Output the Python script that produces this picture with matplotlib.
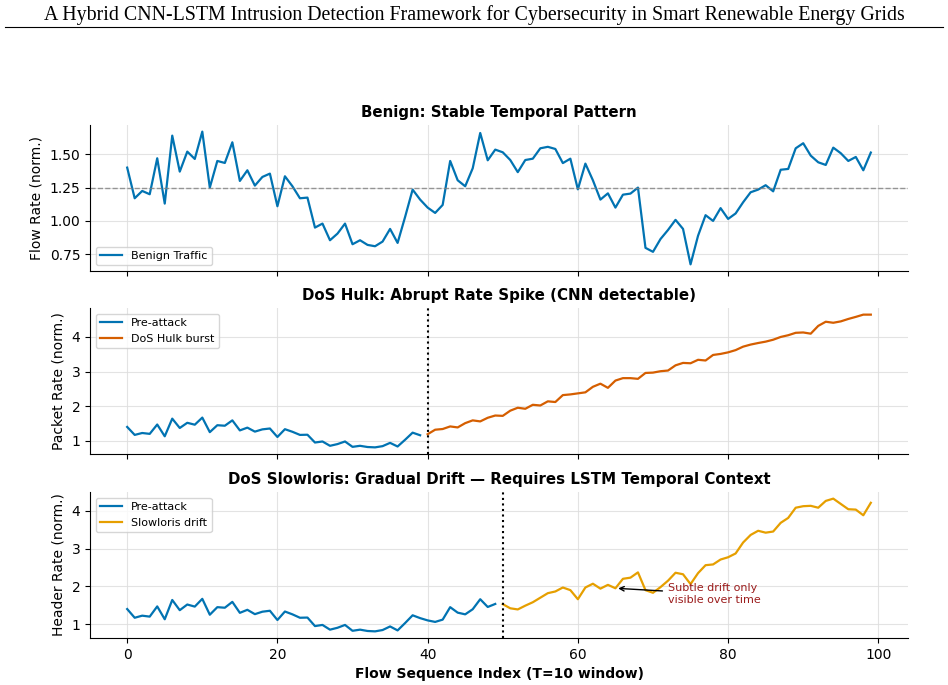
import numpy as np
import matplotlib
matplotlib.use('Agg')
import matplotlib.pyplot as plt
from matplotlib.lines import Line2D

# Benign flow rate, indices 0..99
benign = [1.40, 1.17, 1.225, 1.20, 1.47, 1.13, 1.64, 1.37, 1.52, 1.465,
          1.67, 1.25, 1.45, 1.435, 1.59, 1.30, 1.38, 1.265, 1.33, 1.355,
          1.11, 1.335, 1.26, 1.17, 1.175, 0.95, 0.98, 0.855, 0.905, 0.98,
          0.825, 0.855, 0.82, 0.81, 0.845, 0.94, 0.835, 1.03, 1.235, 1.16,
          1.10, 1.06, 1.12, 1.45, 1.305, 1.26, 1.395, 1.66, 1.455, 1.535,
          1.515, 1.457, 1.366, 1.457, 1.467, 1.545, 1.556, 1.54, 1.434, 1.467,
          1.237, 1.43, 1.305, 1.16, 1.207, 1.10, 1.197, 1.205, 1.25, 0.798,
          0.768, 0.864, 0.932, 1.008, 0.94, 0.674, 0.889, 1.043, 1.00, 1.096,
          1.015, 1.056, 1.14, 1.215, 1.235, 1.268, 1.222, 1.384, 1.39, 1.545,
          1.583, 1.49, 1.44, 1.42, 1.55, 1.508, 1.45, 1.48, 1.38, 1.513]

# DoS Hulk burst, indices 40..99
hulk = [1.19, 1.32, 1.34, 1.415, 1.386, 1.51, 1.59, 1.56, 1.665, 1.73,
        1.72, 1.87, 1.955, 1.925, 2.04, 2.02, 2.14, 2.12, 2.32, 2.34,
        2.37, 2.40, 2.56, 2.65, 2.53, 2.74, 2.81, 2.81, 2.79, 2.96,
        2.97, 3.01, 3.03, 3.18, 3.25, 3.24, 3.34, 3.32, 3.48, 3.51,
        3.555, 3.62, 3.72, 3.78, 3.825, 3.865, 3.92, 4.00, 4.05, 4.12,
        4.13, 4.095, 4.32, 4.44, 4.41, 4.45, 4.52, 4.58, 4.645, 4.645]

# DoS Slowloris drift, indices 50..99
slowloris = [1.53, 1.42, 1.39, 1.49, 1.58, 1.70, 1.82, 1.865, 1.97, 1.90,
             1.66, 1.97, 2.07, 1.94, 2.04, 1.95, 2.20, 2.23, 2.37, 1.90,
             1.83, 1.98, 2.15, 2.36, 2.32, 2.06, 2.35, 2.56, 2.58, 2.71,
             2.77, 2.87, 3.16, 3.36, 3.47, 3.42, 3.45, 3.68, 3.81, 4.08,
             4.12, 4.13, 4.08, 4.26, 4.32, 4.18, 4.04, 4.03, 3.88, 4.21]

hulk_start = 40
slow_start = 50
baseline = 1.245

BLUE = '#0173b2'
VERMILLION = '#d55e00'
ORANGE = '#e69f00'

t = np.arange(len(benign))
benign = np.array(benign)

fig = plt.figure(figsize=(9.48, 6.85), dpi=100)
fig.text(0.5, 0.978, 'A Hybrid CNN-LSTM Intrusion Detection Framework for Cybersecurity in Smart Renewable Energy Grids',
         ha='center', va='center', fontsize=14.3, family='Liberation Serif')
fig.add_artist(Line2D([0.005, 0.995], [0.96, 0.96], color='black', lw=0.8))

left, width = 90 / 948, (908 - 90) / 948
h = 146 / 685
ax1 = fig.add_axes([left, 1 - 271 / 685, width, h])
ax2 = fig.add_axes([left, 1 - 454 / 685, width, h], sharex=ax1)
ax3 = fig.add_axes([left, 1 - 638 / 685, width, h], sharex=ax1)

# Panel 1
ax1.plot(t, benign, color=BLUE, lw=1.6, label='Benign Traffic')
ax1.axhline(baseline, color='gray', ls='--', lw=1, alpha=0.8)
ax1.set_title('Benign: Stable Temporal Pattern', fontsize=10.8, fontweight='bold')
ax1.set_ylabel('Flow Rate (norm.)', fontsize=10)
ax1.legend(loc='lower left', fontsize=8)
ax1.set_yticks([0.75, 1.00, 1.25, 1.50])

# Panel 2
ax2.plot(t[:hulk_start], benign[:hulk_start], color=BLUE, lw=1.6, label='Pre-attack')
ax2.plot(t[hulk_start:], hulk, color=VERMILLION, lw=1.6, label='DoS Hulk burst')
ax2.axvline(hulk_start, color='black', ls=':', lw=1.5)
ax2.set_title('DoS Hulk: Abrupt Rate Spike (CNN detectable)', fontsize=10.8, fontweight='bold')
ax2.set_ylabel('Packet Rate (norm.)', fontsize=10)
ax2.legend(loc='upper left', fontsize=8)

# Panel 3
ax3.plot(t[:slow_start], benign[:slow_start], color=BLUE, lw=1.6, label='Pre-attack')
ax3.plot(t[slow_start:], slowloris, color=ORANGE, lw=1.6, label='Slowloris drift')
ax3.axvline(slow_start, color='black', ls=':', lw=1.5)
ax3.annotate('Subtle drift only\nvisible over time', xy=(65, slowloris[65 - slow_start]),
             xytext=(72, 1.8), va='center', ha='left', fontsize=8, color='#9b1c1c',
             arrowprops=dict(arrowstyle='->', color='black', lw=1))
ax3.set_title('DoS Slowloris: Gradual Drift \u2014 Requires LSTM Temporal Context',
              fontsize=10.8, fontweight='bold')
ax3.set_ylabel('Header Rate (norm.)', fontsize=10)
ax3.set_xlabel('Flow Sequence Index (T=10 window)', fontsize=10, fontweight='bold')
ax3.legend(loc='upper left', fontsize=8)

for ax in (ax1, ax2, ax3):
    ax.grid(True, color='#dddddd', lw=0.8, alpha=0.8)
    ax.set_axisbelow(True)
    ax.spines['top'].set_visible(False)
    ax.spines['right'].set_visible(False)
    ax.tick_params(labelsize=10)
for ax in (ax1, ax2):
    ax.tick_params(labelbottom=False)

fig.savefig('out.png', dpi=100)
